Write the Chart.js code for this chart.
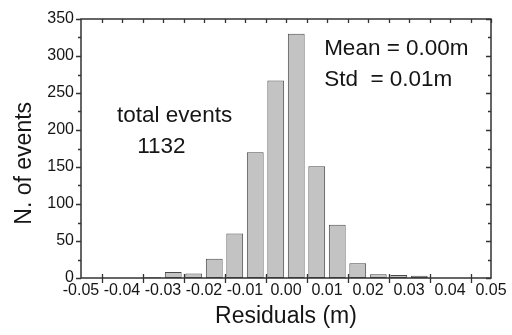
<!DOCTYPE html>
<html>
<head>
<meta charset="utf-8">
<script src="https://cdn.jsdelivr.net/npm/chart.js@4/dist/chart.umd.min.js"></script>
<style>
  html, body { margin: 0; padding: 0; background: #fff; }
  #wrap { width: 512px; height: 335px; }
</style>
</head>
<body>
<div id="wrap"><canvas id="canvas" width="512" height="335"></canvas></div>
<script>
/* histogram bins (centres, m) and counts */
var binCenters = [-0.0475, -0.0425, -0.0375, -0.0325, -0.0275, -0.0225, -0.0175, -0.0125, -0.0075, -0.0025,
                  0.0025, 0.0075, 0.0125, 0.0175, 0.0225, 0.0275, 0.0325, 0.0375, 0.0425, 0.0475];
var counts = [0, 0, 0, 1, 8, 6, 26, 60, 170, 267,
              330, 151, 72, 20, 5, 4, 3, 0, 0, 0];

var xTickValues = [-0.05, -0.04, -0.03, -0.02, -0.01, 0.00, 0.01, 0.02, 0.03, 0.04, 0.05];
var yTickValues = [0, 50, 100, 150, 200, 250, 300, 350];

var FONT = "'Liberation Sans', Arial, Helvetica, sans-serif";
var INK = '#151515';

/* frame, tick marks and text boxes drawn through the scales */
var framePlugin = {
  id: 'frame',
  afterDatasetsDraw: function(chart) {
    var ctx = chart.ctx, a = chart.chartArea;
    var xs = chart.scales.x, ys = chart.scales.y;
    var i, px, py;
    ctx.save();
    ctx.strokeStyle = '#333';
    ctx.lineWidth = 1.5;
    ctx.strokeRect(a.left, a.top, a.right - a.left, a.bottom - a.top);

    ctx.lineWidth = 1.3;
    ctx.beginPath();
    // y ticks: major every 50, minor every 25
    for (i = 0; i <= 350; i += 25) {
      py = Math.round(ys.getPixelForValue(i)) + 0.5;
      var len = (i % 50 === 0) ? 5 : 3;
      ctx.moveTo(a.left, py); ctx.lineTo(a.left - len, py);
      ctx.moveTo(a.right, py); ctx.lineTo(a.right - len, py);
    }
    // x ticks sit at the bin edges between labels
    for (i = -0.045; i < 0.05; i += 0.005) {
      px = Math.round(xs.getPixelForValue(i)) + 0.5;
      ctx.moveTo(px, a.top); ctx.lineTo(px, a.top + 4);
    }
    for (i = -0.045; i < 0.05; i += 0.01) {
      px = Math.round(xs.getPixelForValue(i)) + 0.5;
      ctx.moveTo(px, a.bottom - 4); ctx.lineTo(px, a.bottom + 5);
    }
    ctx.stroke();

    ctx.fillStyle = INK;
    ctx.font = '22.5px ' + FONT;
    ctx.textBaseline = 'alphabetic';
    ctx.textAlign = 'left';
    ctx.fillText('total events', xs.getPixelForValue(-0.0412), ys.getPixelForValue(211));
    ctx.fillText('1132', xs.getPixelForValue(-0.0363), ys.getPixelForValue(169));
    ctx.fillText('Mean = 0.00m', xs.getPixelForValue(0.0093), ys.getPixelForValue(302));
    ctx.fillText('Std  = 0.01m', xs.getPixelForValue(0.0093), ys.getPixelForValue(259));

    // y axis title, a little below the middle of the axis as in the figure
    ctx.translate(25, ys.getPixelForValue(155));
    ctx.rotate(-Math.PI / 2);
    ctx.textAlign = 'center';
    ctx.textBaseline = 'middle';
    ctx.font = '23px ' + FONT;
    ctx.fillText('N. of events', 0, 0);
    ctx.restore();
  }
};

function buildData() {
  var pts = [];
  for (var i = 0; i < binCenters.length; i++) {
    pts.push({ x: binCenters[i], y: counts[i] });
  }
  return {
    datasets: [{
      data: pts,
      backgroundColor: '#c3c3c3',
      borderColor: '#4a4a4a',
      borderWidth: 1,
      borderSkipped: false,
      barPercentage: 0.82,
      categoryPercentage: 1.0
    }]
  };
}

var ctx2d = document.getElementById('canvas').getContext('2d');
var chart = new Chart(ctx2d, {
  type: 'bar',
  data: buildData(),
  plugins: [framePlugin],
  options: {
    responsive: false,
    animation: false,
    devicePixelRatio: 1,
    layout: { padding: { top: 19, right: 21, left: 0, bottom: 0 } },
    plugins: { legend: { display: false }, tooltip: { enabled: false } },
    scales: {
      x: {
        type: 'linear',
        offset: false,
        min: -0.05,
        max: 0.05,
        afterBuildTicks: function(s) {
          s.ticks = xTickValues.map(function(v) { return { value: v }; });
        },
        afterFit: function(s) { s.height = 57; },
        grid: { display: false, drawTicks: false },
        border: { display: false },
        ticks: {
          padding: 3,
          maxRotation: 0,
          autoSkip: false,
          color: INK,
          font: { family: FONT, size: 16 },
          callback: function(v) { return Math.abs(v) < 1e-9 ? '0.00' : v.toFixed(2); }
        },
        title: {
          display: true,
          text: 'Residuals (m)',
          color: INK,
          font: { family: FONT, size: 23 },
          padding: { top: 0, bottom: 5 }
        }
      },
      y: {
        min: 0,
        max: 350,
        afterBuildTicks: function(s) {
          s.ticks = yTickValues.map(function(v) { return { value: v }; });
        },
        afterFit: function(s) { s.width = 81; },
        grid: { display: false, drawTicks: false },
        border: { display: false },
        ticks: {
          padding: 7,
          color: INK,
          font: { family: FONT, size: 16 }
        }
      }
    }
  }
});
</script>
</body>
</html>
